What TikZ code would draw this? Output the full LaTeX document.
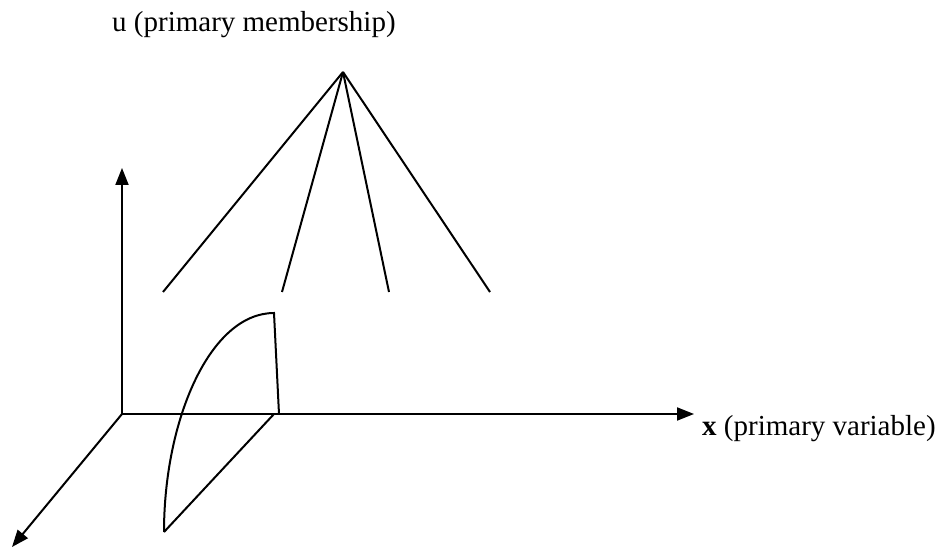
\documentclass[tikz,border=0pt]{standalone}
\usepackage{fontspec}
\setmainfont{Liberation Serif}
\usetikzlibrary{arrows.meta}
\tikzset{
  axis/.style={line width=2pt,-{Triangle[length=17pt,width=13pt]}},
  edge/.style={line width=2pt},
  lbl/.style={anchor=base west,inner sep=0pt,font=\fontsize{29}{34}\selectfont}
}
\begin{document}
\begin{tikzpicture}[x=1pt,y=-1pt]
\useasboundingbox (0,0) rectangle (943,548);

% Axes
\coordinate (o) at (122,414);
\coordinate (xend) at (694,414);
\coordinate (uend) at (122,168);
\coordinate (zend) at (12,547);
\draw[axis] (o) -- (xend);
\draw[axis] (o) -- (uend);
\draw[axis] (o) -- (zend);

\node[lbl] (xlab) at (702,435) {\textbf{x} (primary variable)};
\node[lbl] (ulab) at (112,32) {u (primary membership)};

% Faisceau
\coordinate (apex) at (343,72);
\foreach \x in {163,282,389,490}
{
\draw[edge] (apex) -- (\x,292);
}

% Surface
\coordinate (bot) at (164,532);
\coordinate (top) at (274,313);
\coordinate (foot) at (279,414);
\coordinate (diag) at (274,414);
\draw[edge]
(bot) .. controls (164,420) and (210,313) .. (top)
-- (foot);
\draw[edge] (diag) -- (bot);

\end{tikzpicture}
\end{document}
